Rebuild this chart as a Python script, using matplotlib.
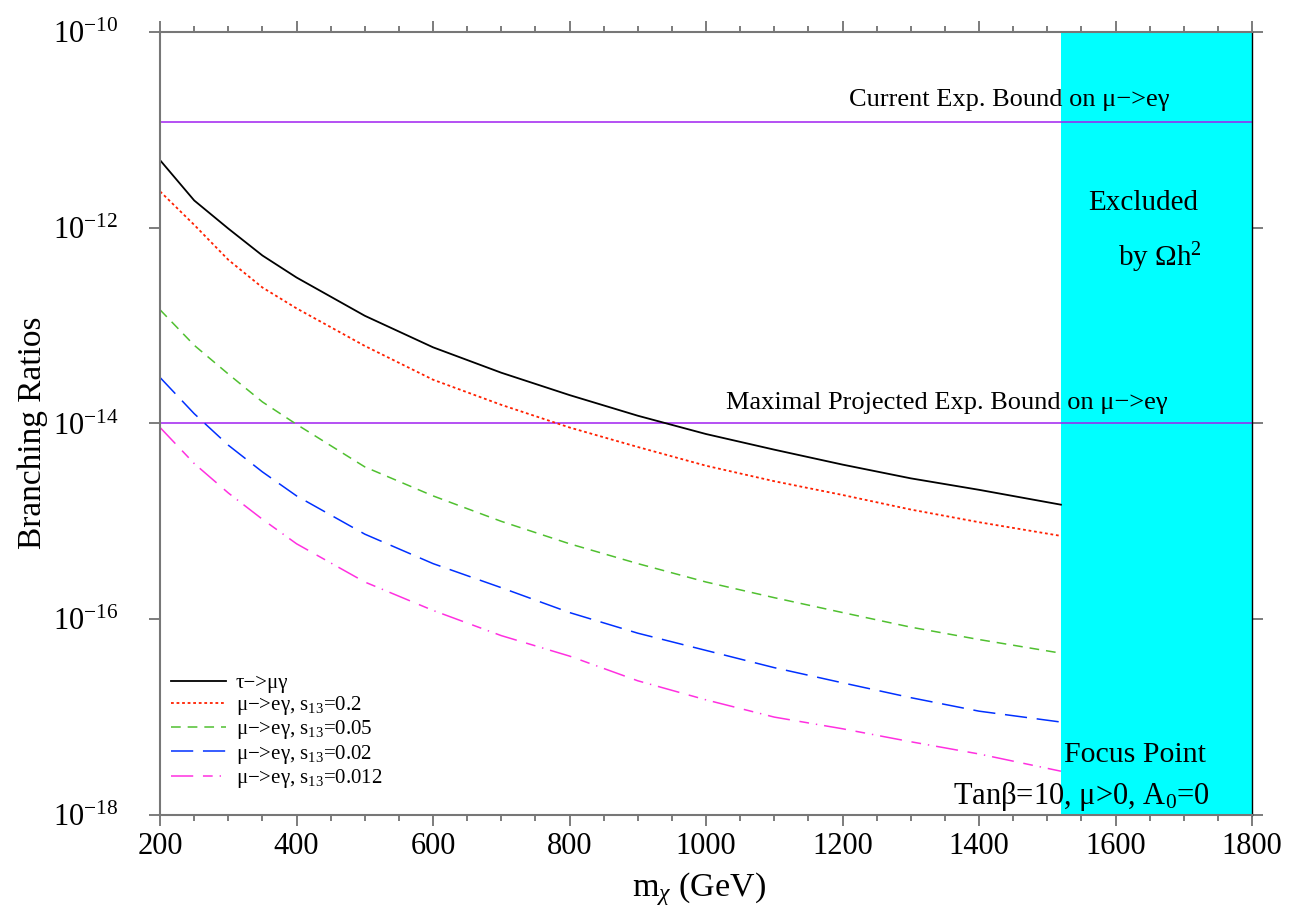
import numpy as np
import matplotlib
matplotlib.use("Agg")
import matplotlib.pyplot as plt
from matplotlib.ticker import MultipleLocator, NullLocator

plt.rcParams["font.family"] = ["Liberation Serif", "DejaVu Serif"]
plt.rcParams["mathtext.fontset"] = "custom"
plt.rcParams["mathtext.rm"] = "Liberation Serif"
plt.rcParams["mathtext.it"] = "Liberation Serif:italic"
plt.rcParams["lines.scale_dashes"] = False

# neutralino mass (GeV)
m_chi = [200, 250, 300, 350, 400, 500, 600, 700, 800, 900, 1000, 1100, 1200, 1300, 1400, 1520]

br_tau_mugamma = [4.9e-12, 1.9e-12, 9.8e-13, 5.2e-13, 3.1e-13, 1.26e-13, 6.0e-14, 3.3e-14,
                  1.95e-14, 1.2e-14, 7.8e-15, 5.4e-15, 3.8e-15, 2.75e-15, 2.1e-15, 1.48e-15]
br_mueg_02 = [2.35e-12, 1.07e-12, 4.7e-13, 2.45e-13, 1.5e-13, 6.2e-14, 2.8e-14, 1.55e-14,
              9.1e-15, 5.75e-15, 3.7e-15, 2.57e-15, 1.86e-15, 1.32e-15, 9.8e-16, 7.1e-16]
br_mueg_005 = [1.45e-13, 6.3e-14, 3.2e-14, 1.66e-14, 9.8e-15, 3.6e-15, 1.82e-15, 1.0e-15,
               5.9e-16, 3.7e-16, 2.4e-16, 1.66e-16, 1.17e-16, 8.3e-17, 6.2e-17, 4.5e-17]
br_mueg_002 = [2.95e-14, 1.26e-14, 6.0e-15, 3.2e-15, 1.82e-15, 7.4e-16, 3.7e-16, 2.1e-16,
               1.17e-16, 7.2e-17, 4.8e-17, 3.2e-17, 2.24e-17, 1.58e-17, 1.15e-17, 8.9e-18]
br_mueg_0012 = [9.1e-15, 3.9e-15, 1.95e-15, 1.05e-15, 5.9e-16, 2.4e-16, 1.23e-16, 6.8e-17,
                4.2e-17, 2.35e-17, 1.5e-17, 1.0e-17, 7.6e-18, 5.6e-18, 4.2e-18, 2.8e-18]

current_bound = 1.2e-11
projected_bound = 1.0e-14
excluded_from = 1520

fig = plt.figure(figsize=(13.12, 9.11), dpi=100)
ax = fig.add_axes([0.122, 0.1054, 0.8323, 0.8595])

ax.axvspan(excluded_from, 1800, color="#00ffff", zorder=0, lw=0)

ax.axhline(current_bound, color="#a020f0", lw=1.1, zorder=1)
ax.axhline(projected_bound, color="#a020f0", lw=1.1, zorder=1)

ax.plot(m_chi, br_tau_mugamma, color="black", lw=1.3, label="τ−>μγ")
ax.plot(m_chi, br_mueg_02, color="#ff2000", lw=1.3, ls=(0, (2, 2)),
        label=r"μ−>eγ, s$_{13}$=0.2")
ax.plot(m_chi, br_mueg_005, color="#50c030", lw=1.1, ls=(0, (7, 5)),
        label=r"μ−>eγ, s$_{13}$=0.05")
ax.plot(m_chi, br_mueg_002, color="#0030ff", lw=1.1, ls=(0, (16, 7)),
        label=r"μ−>eγ, s$_{13}$=0.02")
ax.plot(m_chi, br_mueg_0012, color="#ff30e0", lw=1.1, ls=(0, (16, 7, 7, 5, 1, 5)),
        label=r"μ−>eγ, s$_{13}$=0.012")

ax.set_yscale("log")
ax.set_xlim(200, 1800)
ax.set_ylim(1e-18, 1e-10)
ax.set_yticks([1e-18, 1e-16, 1e-14, 1e-12, 1e-10])
ax.yaxis.set_minor_locator(NullLocator())
ax.xaxis.set_major_locator(MultipleLocator(200))
ax.xaxis.set_minor_locator(MultipleLocator(50))

ax.tick_params(which="both", direction="out", top=True, right=True, color="#666666", width=1.2)
ax.tick_params(which="major", length=8, labelsize=22)
ax.tick_params(axis="x", which="major", pad=4)
ax.tick_params(axis="y", which="major", pad=22)
ax.tick_params(which="minor", length=4.5)

for side in ["left", "bottom", "top"]:
    ax.spines[side].set_color("#777777")
    ax.spines[side].set_linewidth(1.5)
ax.spines["right"].set_color("black")
ax.spines["right"].set_linewidth(1.0)

ax.set_xlabel(r"m$_\chi$ (GeV)", fontsize=24.5)
ax.set_ylabel("Branching Ratios", fontsize=24)
ax.xaxis.set_label_coords(0.4936, -0.07)
ax.yaxis.set_label_coords(-0.103, 0.488)

ax.text(1679, 2.0e-11, "Current Exp. Bound on μ−>eγ", fontsize=19, ha="right", va="center")
ax.text(1676, 1.6e-14, "Maximal Projected Exp. Bound on μ−>eγ", fontsize=19, ha="right", va="center")
ax.text(1640, 1.8e-12, "Excluded", fontsize=21, ha="center", va="center")
ax.text(1665, 4.9e-13, r"by Ωh$^2$", fontsize=21, ha="center", va="center")
ax.text(1628, 4.1e-18, "Focus Point", fontsize=21.5, ha="center", va="center")
ax.text(1550, 1.55e-18, r"Tanβ=10, μ>0, A$_0$=0", fontsize=22, ha="center", va="center")

ax.legend(loc="lower left", bbox_to_anchor=(0.01, 0.032), frameon=False, fontsize=15,
          handlelength=2.65, handletextpad=0.45, labelspacing=0.06, borderpad=0, borderaxespad=0)

fig.savefig("out.png", dpi=100)
